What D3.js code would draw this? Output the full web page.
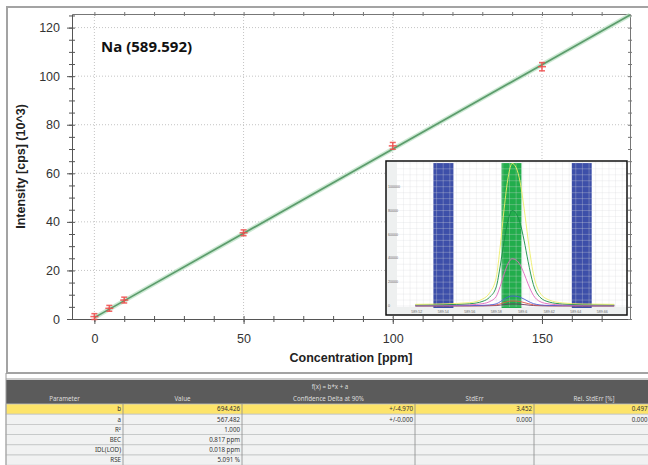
<!DOCTYPE html>
<html>
<head>
<meta charset="utf-8">
<script src="https://cdn.jsdelivr.net/npm/d3@7"></script>
<style>
  body { margin: 0; background: #fff; }
  svg { display: block; }
</style>
</head>
<body>
<div id="chart"></div>
<script>
// Calibration standards (concentration in ppm, intensity in 10^3 cps)
const concentration = [0, 5, 10, 50, 100, 150];
const intensity = [1.0, 4.4, 7.8, 35.5, 71.3, 103.9];
const intensityErr = [1.2, 1.2, 1.2, 1.2, 1.4, 1.7];

// Fitted line end points f(x) = b*x + a
const fitConc = [0, 179.5];
const fitIntensity = [0.57, 125.2];

const xTicks = [0, 50, 100, 150];
const yTicks = [0, 20, 40, 60, 80, 100, 120];

// Inset spectrum scans around Na 589.592
const wavelength = [589.519, 589.54, 589.56, 589.57, 589.575, 589.58, 589.583, 589.586, 589.589, 589.592,
  589.595, 589.598, 589.601, 589.604, 589.608, 589.613, 589.62, 589.63, 589.645, 589.669];
const scanYellow = [1400, 1800, 2800, 6000, 11000, 24000, 50000, 82000, 108000, 119500,
  116000, 104000, 82000, 56000, 27000, 11000, 5000, 2600, 1700, 1400];
const scanGreen = [900, 1100, 1900, 4000, 7400, 16000, 33500, 55000, 72000, 80000,
  77500, 69500, 55000, 37500, 18000, 7400, 3300, 1700, 1100, 900];
const scanPink = [600, 700, 1000, 2000, 3700, 8000, 16500, 27000, 35800, 39600,
  38500, 34500, 27200, 18500, 9000, 3700, 1700, 900, 650, 600];
const scanBlue = [200, 250, 350, 550, 900, 1800, 3600, 5800, 7600, 8400,
  8200, 7300, 5800, 4000, 2000, 900, 450, 300, 220, 200];
const scanRed = [100, 120, 170, 260, 450, 900, 1800, 2900, 3800, 4200,
  4100, 3700, 2900, 2000, 1000, 450, 220, 150, 110, 100];
const scanDark = [50, 60, 80, 120, 190, 370, 740, 1180, 1550, 1700,
  1660, 1500, 1180, 800, 400, 180, 90, 60, 50, 50];
const scanColors = ["#6a3a62", "#e2584a", "#4e5fd6", "#e068bd", "#178f45", "#eeee6a"];
const bgWindows = [[589.5326, 589.5477], [589.637, 589.652]];
const peakWindow = [589.584, 589.599];
const insetXTicks = [589.52, 589.54, 589.56, 589.58, 589.60, 589.62, 589.64, 589.66];
const insetXLabels = ["589.52", "589.54", "589.56", "589.58", "589.6", "589.62", "589.64", "589.66"];
const insetYTicks = [0, 20000, 40000, 60000, 80000, 100000];

// Regression table
const tableHeads = ["Parameter", "Value", "Confidence Delta at 90%", "StdErr", "Rel. StdErr [%]"];
const paramNames = ["b", "a", "R²", "BEC", "IDL(LOD)", "RSE"];
const paramValues = ["694.426", "567.482", "1.000", "0.817 ppm", "0.018 ppm", "5.091 %"];
const confDelta = ["+/-4.970", "+/-0.000", "", "", "", ""];
const stdErr = ["3.452", "0.000", "", "", "", ""];
const relStdErr = ["0.497", "0.000", "", "", "", ""];

const W = 648, H = 465;
const svg = d3.select("#chart").append("svg").attr("width", W).attr("height", H);

// outer frame of the chart panel
svg.append("rect").attr("x", 7).attr("y", 7).attr("width", 660).attr("height", 366)
  .attr("fill", "#fff").attr("stroke", "#a3a3a3").attr("stroke-width", 2);

const plot = { left: 72, right: 630, top: 14, bottom: 319 };
const x = d3.scaleLinear().domain([-7.5, 179.5]).range([plot.left, plot.right]);
const y = d3.scaleLinear().domain([0, 125.6]).range([plot.bottom, plot.top]);

const g = svg.append("g");

// dotted grid at major ticks
g.append("g").selectAll("line").data(xTicks).join("line")
  .attr("x1", d => x(d)).attr("x2", d => x(d)).attr("y1", plot.top).attr("y2", plot.bottom)
  .attr("stroke", "#c4c4c4").attr("stroke-dasharray", "1,2");
g.append("g").selectAll("line").data(yTicks.filter(d => d > 0)).join("line")
  .attr("x1", plot.left).attr("x2", plot.right).attr("y1", d => y(d)).attr("y2", d => y(d))
  .attr("stroke", "#c4c4c4").attr("stroke-dasharray", "1,2");

// axes
const axisColor = "#555";
const xMinor = d3.range(0, 180, 10);
const yMinor = d3.range(0, 126, 5);

function styleAxis(sel) {
  sel.select(".domain").attr("stroke", axisColor);
  sel.selectAll(".tick line").attr("stroke", axisColor);
  sel.selectAll(".tick text").attr("fill", "#333")
    .style("font-family", "'Liberation Sans', Arial, sans-serif").style("font-size", "12.5px");
}

// bottom: minor ticks crossing, majors with labels
const gx = g.append("g").attr("transform", `translate(0,${plot.bottom})`)
  .call(d3.axisBottom(x).tickValues(xMinor).tickFormat("").tickSizeOuter(0).tickSizeInner(3));
gx.selectAll(".tick line").attr("y1", -3);
styleAxis(gx);
const gxMaj = g.append("g").attr("transform", `translate(0,${plot.bottom})`)
  .call(d3.axisBottom(x).tickValues(xTicks).tickSizeOuter(0).tickSizeInner(5).tickPadding(10));
gxMaj.select(".domain").remove();
styleAxis(gxMaj);

const gy = g.append("g").attr("transform", `translate(${plot.left},0)`)
  .call(d3.axisLeft(y).tickValues(yMinor).tickFormat("").tickSizeOuter(0).tickSizeInner(3));
gy.selectAll(".tick line").attr("x1", 3);
styleAxis(gy);
const gyMaj = g.append("g").attr("transform", `translate(${plot.left},0)`)
  .call(d3.axisLeft(y).tickValues(yTicks).tickSizeOuter(0).tickSizeInner(5).tickPadding(7));
gyMaj.select(".domain").remove();
styleAxis(gyMaj);

// top and right mirror axes
const gt = g.append("g").attr("transform", `translate(0,${plot.top})`)
  .call(d3.axisTop(x).tickValues(xMinor).tickFormat("").tickSizeOuter(0).tickSizeInner(2));
gt.selectAll(".tick line").attr("y1", 2);
gt.select(".domain").attr("stroke", "#777");
gt.selectAll(".tick line").attr("stroke", "#777");
const gr = g.append("g").attr("transform", `translate(${plot.right},0)`)
  .call(d3.axisRight(y).tickValues(yMinor).tickFormat("").tickSizeOuter(0).tickSizeInner(2));
gr.selectAll(".tick line").attr("x1", -2);
gr.select(".domain").attr("stroke", "#777");
gr.selectAll(".tick line").attr("stroke", "#777");

// axis titles
g.append("text").attr("x", 351).attr("y", 362).attr("text-anchor", "middle")
  .style("font-family", "'Liberation Sans', Arial, sans-serif").style("font-size", "12.5px")
  .style("font-weight", "bold").attr("fill", "#222").text("Concentration [ppm]");
g.append("text").attr("transform", `translate(25,${(plot.top + plot.bottom) / 2}) rotate(-90)`)
  .attr("text-anchor", "middle")
  .style("font-family", "'Liberation Sans', Arial, sans-serif").style("font-size", "12.5px")
  .style("font-weight", "bold").attr("fill", "#222").text("Intensity [cps] (10^3)");

// element label
g.append("text").attr("x", 101).attr("y", 52)
  .style("font-family", "'Open Sans', sans-serif").style("font-size", "15px")
  .style("font-weight", "bold").attr("fill", "#111").text("Na (589.592)");

// fit line with light confidence halo
const fitPts = fitConc.map((c, i) => [c, fitIntensity[i]]);
const fitLine = d3.line().x(d => x(d[0])).y(d => y(d[1]));
g.append("path").datum(fitPts).attr("d", fitLine).attr("fill", "none")
  .attr("stroke", "#b7dfc0").attr("stroke-width", 4.5).attr("stroke-opacity", 0.7);
g.append("path").datum(fitPts).attr("d", fitLine).attr("fill", "none")
  .attr("stroke", "#5c9c6c").attr("stroke-width", 1.7);

// standards as red crosses with error bars
const pts = concentration.map((c, i) => ({ c, v: intensity[i], e: intensityErr[i] }));
const mk = g.append("g").attr("stroke", "#f04a4a").attr("stroke-width", 1.5).attr("stroke-opacity", 0.85);
pts.forEach(p => {
  const cx = x(p.c), cy = y(p.v), t = y(p.v + p.e), b = y(p.v - p.e);
  mk.append("line").attr("x1", cx - 4).attr("x2", cx + 4).attr("y1", cy).attr("y2", cy);
  mk.append("line").attr("x1", cx).attr("x2", cx).attr("y1", t).attr("y2", b);
  mk.append("line").attr("x1", cx - 3).attr("x2", cx + 3).attr("y1", t).attr("y2", t);
  mk.append("line").attr("x1", cx - 3).attr("x2", cx + 3).attr("y1", b).attr("y2", b);
});

// ---- inset spectrum ----
const inset = { left: 386, right: 627, top: 161, bottom: 315, pl: 397, pb: 307 };
const ig = svg.append("g");
ig.append("rect").attr("x", inset.left).attr("y", inset.top)
  .attr("width", inset.right - inset.left).attr("height", inset.bottom - inset.top).attr("fill", "#eef0f0");
ig.append("rect").attr("x", inset.pl).attr("y", inset.top)
  .attr("width", inset.right - inset.pl).attr("height", inset.pb - inset.top).attr("fill", "#fff");

const ix = d3.scaleLinear().domain([589.52, 589.66]).range([416.7, 602.3]);
const iy = d3.scaleLinear().domain([0, 100000]).range([306, 186.7]);

const bandTop = inset.top + 2, bandBot = inset.pb + 1;
ig.append("g").selectAll("rect").data(bgWindows).join("rect")
  .attr("x", d => ix(d[0])).attr("width", d => ix(d[1]) - ix(d[0]))
  .attr("y", bandTop).attr("height", bandBot - bandTop).attr("fill", "#3d4fa9");
ig.append("rect").attr("x", ix(peakWindow[0])).attr("width", ix(peakWindow[1]) - ix(peakWindow[0]))
  .attr("y", bandTop).attr("height", bandBot - bandTop).attr("fill", "#22ad4c");

// fine grid over the plot area
const gridX = d3.range(589.505, 589.695, 0.005).filter(d => ix(d) > inset.pl && ix(d) < inset.right);
const gridY = d3.range(0, 125000, 5000).filter(d => iy(d) > inset.top);
ig.append("g").selectAll("line").data(gridX).join("line")
  .attr("x1", d => ix(d)).attr("x2", d => ix(d)).attr("y1", inset.top).attr("y2", inset.pb)
  .attr("stroke", "#d6d9dc").attr("stroke-opacity", 0.6).attr("stroke-width", 0.5);
ig.append("g").selectAll("line").data(gridY).join("line")
  .attr("x1", inset.pl).attr("x2", inset.right).attr("y1", d => iy(d)).attr("y2", d => iy(d))
  .attr("stroke", "#d6d9dc").attr("stroke-opacity", 0.6).attr("stroke-width", 0.5);

const scans = [scanDark, scanRed, scanBlue, scanPink, scanGreen, scanYellow];
const scanLine = d3.line().x((d, i) => ix(wavelength[i])).y(d => iy(d)).curve(d3.curveMonotoneX);
ig.append("g").selectAll("path").data(scans).join("path")
  .attr("d", scanLine).attr("fill", "none")
  .attr("stroke", (d, i) => scanColors[i]).attr("stroke-width", 0.9);

ig.append("g").selectAll("text").data(insetXTicks).join("text")
  .attr("x", d => ix(d)).attr("y", 312.5).attr("text-anchor", "middle")
  .style("font-family", "'Liberation Sans', Arial, sans-serif").style("font-size", "3.6px")
  .attr("fill", "#666").text((d, i) => insetXLabels[i]);
ig.append("g").selectAll("text").data(insetYTicks).join("text")
  .attr("x", 388).attr("y", d => iy(d) + 1.2)
  .style("font-family", "'Liberation Sans', Arial, sans-serif").style("font-size", "3.6px")
  .attr("fill", "#666").text(d => d);

ig.append("rect").attr("x", inset.left).attr("y", inset.top)
  .attr("width", inset.right - inset.left).attr("height", inset.bottom - inset.top)
  .attr("fill", "none").attr("stroke", "#111").attr("stroke-width", 1.5);

// ---- regression table ----
const colEdges = [6, 123, 242, 415, 534, 649.5];
const tg = svg.append("g").style("font-family", "'Noto Sans', 'Open Sans', sans-serif");
tg.append("line").attr("x1", 6).attr("x2", W).attr("y1", 379).attr("y2", 379).attr("stroke", "#999");
tg.append("rect").attr("x", 6).attr("y", 380).attr("width", W).attr("height", 24).attr("fill", "#5b5b5b");
tg.append("text").attr("x", 330).attr("y", 388.5).attr("text-anchor", "middle")
  .attr("fill", "#ddd").style("font-size", "6.2px").text("f(x) = b*x + a");
tg.append("g").selectAll("text").data(tableHeads).join("text")
  .attr("x", (d, i) => i === 4 ? 594 : (colEdges[i] + colEdges[i + 1]) / 2).attr("y", 400.5)
  .attr("text-anchor", "middle")
  .attr("fill", "#ddd").style("font-size", "6.2px").text(d => d);

const rowTop = 404, rowH = 10.2;
const rows = paramNames.map((p, i) => [p, paramValues[i], confDelta[i], stdErr[i], relStdErr[i]]);
rows.forEach((r, ri) => {
  const ry = rowTop + ri * rowH;
  tg.append("rect").attr("x", 6).attr("y", ry).attr("width", W).attr("height", rowH)
    .attr("fill", ri === 0 ? "#fde46a" : "#f1f2f2").attr("stroke", "#c3c5c5").attr("stroke-width", 0.8);
  r.forEach((cell, ci) => {
    tg.append("text").attr("x", colEdges[ci + 1] - 2).attr("y", ry + 7.4).attr("text-anchor", "end")
      .attr("fill", "#333").style("font-size", "6.2px").text(cell);
  });
});
tg.append("g").selectAll("line").data(colEdges.slice(1, 5)).join("line")
  .attr("x1", d => d).attr("x2", d => d).attr("y1", rowTop).attr("y2", H)
  .attr("stroke", "#8c8c8c").attr("stroke-width", 0.8);
tg.append("line").attr("x1", 6).attr("x2", 6).attr("y1", 373).attr("y2", H).attr("stroke", "#999");
</script>
</body>
</html>
